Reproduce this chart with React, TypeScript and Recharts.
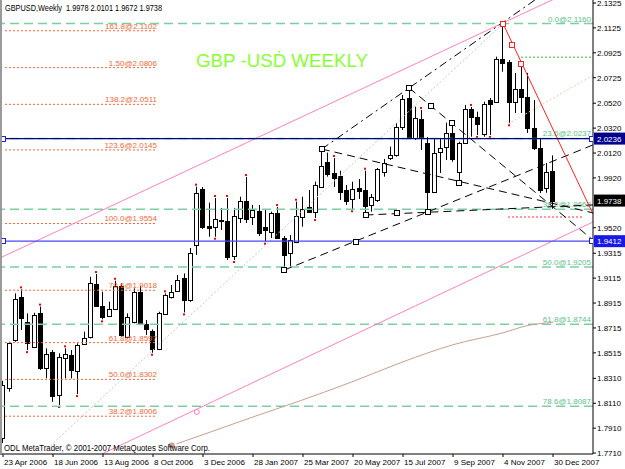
import React from 'react';
import { ComposedChart, Bar, Line, Scatter, XAxis, YAxis, ReferenceLine } from 'recharts';

// weekly bars, index 0 = week of 23 Apr 2006
const dateTicks = [0, 8, 16, 24, 32, 40, 48, 56, 64, 72, 80, 88];
const dateLabels = [
  '23 Apr 2006', '18 Jun 2006', '13 Aug 2006', '8 Oct 2006', '3 Dec 2006', '28 Jan 2007',
  '25 Mar 2007', '20 May 2007', '15 Jul 2007', '9 Sep 2007', '4 Nov 2007', '30 Dec 2007',
];
const priceTicks = [
  2.1325, 2.1125, 2.0925, 2.0725, 2.052, 2.032, 2.012, 1.992, 1.952, 1.9315,
  1.9115, 1.8915, 1.8715, 1.8515, 1.831, 1.811, 1.791, 1.771,
];

const opens = [
  1.7830, 1.8230, 1.8618, 1.8966, 1.8765, 1.8564, 1.8832, 1.8390, 1.8524, 1.8176,
  1.8471, 1.8497, 1.8371, 1.8586, 1.8645, 1.9068, 1.8894, 1.8810, 1.8864, 1.9051,
  1.8645, 1.8765, 1.9006, 1.8746, 1.8690, 1.8545, 1.8824, 1.8961, 1.9014, 1.9113,
  1.8939, 1.9381, 1.9831, 1.9534, 1.9526, 1.9580, 1.9574, 1.9293, 1.9598, 1.9737,
  1.9606, 1.9657, 1.9528, 1.9488, 1.9638, 1.9437, 1.9317, 1.9408, 1.9609, 1.9686,
  1.9649, 1.9850, 2.0050, 1.9962, 1.9935, 1.9823, 1.9751, 1.9839, 1.9823, 1.9703,
  1.9743, 1.9970, 2.0080, 2.0104, 2.0329, 2.0562, 2.0241, 2.0393, 2.0203, 1.9809,
  2.0131, 2.0168, 2.0281, 1.9970, 2.0203, 2.0474, 2.0412, 2.0273, 2.0546, 2.0532,
  2.0875, 2.0854, 2.0532, 2.0634, 2.0570, 2.0321, 2.0160, 1.9839, 1.9978,
];
const highs = [
  1.8290, 1.8604, 1.8993, 1.9025, 1.8832, 1.8837, 1.8886, 1.8551, 1.8537, 1.8511,
  1.8551, 1.8537, 1.8591, 1.8685, 1.9126, 1.9148, 1.9006, 1.8926, 1.9094, 1.9073,
  1.8832, 1.9033, 1.9051, 1.8778, 1.8703, 1.8845, 1.8993, 1.9060, 1.9140, 1.9153,
  1.9357, 1.9850, 1.9847, 1.9721, 1.9759, 1.9678, 1.9759, 1.9678, 1.9769, 1.9927,
  1.9703, 1.9703, 1.9662, 1.9649, 1.9686, 1.9453, 1.9461, 1.9729, 1.9769, 1.9823,
  1.9890, 2.0152, 2.0123, 2.0080, 1.9978, 1.9863, 1.9890, 1.9911, 1.9978, 1.9791,
  2.0000, 2.0072, 2.0171, 2.0361, 2.0586, 2.0642, 2.0492, 2.0466, 2.0249, 2.0241,
  2.0241, 2.0364, 2.0372, 2.0211, 2.0506, 2.0490, 2.0452, 2.0532, 2.0562, 2.0894,
  2.1160, 2.0867, 2.0763, 2.0827, 2.0763, 2.0546, 2.0241, 2.0040, 2.0101,
];
const lows = [
  1.7790, 1.8203, 1.8604, 1.8698, 1.8537, 1.8559, 1.8377, 1.8310, 1.8122, 1.8096,
  1.8310, 1.8310, 1.8184, 1.8578, 1.8631, 1.8886, 1.8784, 1.8805, 1.8859, 1.8645,
  1.8631, 1.8752, 1.8738, 1.8658, 1.8516, 1.8537, 1.8819, 1.8952, 1.9006, 1.8840,
  1.8925, 1.9301, 1.9510, 1.9448, 1.9448, 1.9502, 1.9261, 1.9261, 1.9558, 1.9558,
  1.9542, 1.9454, 1.9408, 1.9437, 1.9429, 1.9180, 1.9207, 1.9397, 1.9528, 1.9638,
  1.9598, 1.9847, 1.9930, 1.9847, 1.9743, 1.9703, 1.9668, 1.9751, 1.9622, 1.9649,
  1.9727, 1.9930, 2.0064, 2.0091, 2.0305, 2.0233, 2.0225, 2.0144, 1.9649, 1.9799,
  1.9960, 2.0064, 2.0050, 1.9879, 2.0193, 2.0251, 2.0265, 2.0251, 2.0265, 2.0522,
  2.0773, 2.0359, 2.0441, 2.0441, 2.0281, 2.0144, 1.9799, 1.9801, 1.9672,
];
const closes = [
  1.8256, 1.8591, 1.8945, 1.8792, 1.8591, 1.8819, 1.8390, 1.8503, 1.8168, 1.8484,
  1.8503, 1.8377, 1.8578, 1.8631, 1.9073, 1.8894, 1.8805, 1.8864, 1.9051, 1.8658,
  1.8805, 1.9006, 1.8752, 1.8703, 1.8545, 1.8832, 1.8979, 1.9006, 1.9100, 1.8939,
  1.9317, 1.9799, 1.9526, 1.9514, 1.9590, 1.9584, 1.9285, 1.9614, 1.9737, 1.9590,
  1.9662, 1.9480, 1.9502, 1.9641, 1.9437, 1.9301, 1.9421, 1.9614, 1.9670, 1.9649,
  1.9863, 2.0016, 1.9952, 1.9919, 1.9809, 1.9737, 1.9831, 1.9815, 1.9695, 1.9767,
  1.9992, 2.0042, 2.0104, 2.0331, 2.0554, 2.0241, 2.0401, 2.0241, 1.9809, 2.0123,
  2.0160, 2.0281, 2.0072, 2.0201, 2.0474, 2.0412, 2.0353, 2.0514, 2.0514, 2.0875,
  2.0846, 2.0532, 2.0634, 2.0570, 2.0321, 2.0160, 1.9823, 1.9970, 1.9738,
];

// fractal dots (bar indexes)
const fractalUp = [3, 6, 10, 15, 18, 26, 31, 34, 36, 39, 44, 47, 53, 58, 67, 75];
const fractalDown = [4, 9, 12, 16, 24, 29, 34, 37, 42, 50, 56, 76, 78, 81];

// moving average
const maBars = [27, 32, 40, 48, 56, 64, 72, 80, 84, 88];
const maValues = [1.7770, 1.7858, 1.8000, 1.8138, 1.8285, 1.8443, 1.8580, 1.8676, 1.8735, 1.8760];

// fibo levels
const orangeLevels = [2.1102, 2.0806, 2.0511, 2.0145, 1.9554, 1.9018, 1.8597, 1.8302, 1.8006];
const orangeLabels = ['161.8@2.1102', '1.50@2.0806', '138.2@2.0511', '123.6@2.0145', '100.0@1.9554',
  '78.6@1.9018', '61.8@1.8597', '50.0@1.8302', '38.2@1.8006'];
const greenLevels = [2.1160, 2.0237, 1.9668, 1.9205, 1.8744, 1.8087];
const greenLabels = ['0.0@2.1160', '23.6@2.0237', '38.2@1.9668', '50.0@1.9205', '61.8@1.8744', '78.6@1.8087'];

// trend lines [bar, price]
const pinkUpper = [[-0.48, 1.9277], [88, 2.1353]];
const pinkLower = [[15.84, 1.7703], [94.4, 1.9566]];
const grayDotted = [[6.2, 1.7703], [80, 2.1160]];
const faintDotted = [[80.8, 2.0353], [94.5, 2.0747]];
const redTrend = [[80, 2.1160], [94.4, 1.9630]];
const forkLower = [[45, 1.9180], [94.4, 2.0185]];
const forkUpper = [[51, 2.0152], [86.7, 2.1405]];
const forkMid = [[51, 2.0152], [94.4, 1.9639]];
const forkDown = [[65, 2.0642], [94.4, 1.9421]];
const flatLine = [[58, 1.9622], [94.4, 1.9703]];

const squareMarks = [
  { i: 51, p: 2.0152 }, { i: 65, p: 2.0642 }, { i: 68.48, p: 2.0497 }, { i: 71.84, p: 2.0358 },
  { i: 73, p: 1.9879 }, { i: 58, p: 1.9622 }, { i: 63, p: 1.9638 }, { i: 68, p: 1.9649 },
  { i: 56.5, p: 1.9405 }, { i: 45, p: 1.9180 },
];
const redMarks = [{ i: 80, p: 2.1160 }, { i: 81.4, p: 2.0988 }, { i: 82.9, p: 2.0835 }];
const blueMarks = [{ i: 0, p: 2.0236 }, { i: 0, p: 1.9412 }, { i: 94.2, p: 2.0236 }, { i: 94.2, p: 1.9412 }];
const circleMarks = [{ i: 31, p: 1.8040 }];

const candles = opens.map((o, i) => ({
  i, open: o, high: highs[i], low: lows[i], close: closes[i],
  range: [lows[i], highs[i]],
  up: fractalUp.includes(i), down: fractalDown.includes(i),
}));
const ma = maBars.map((i, k) => ({ i, p: maValues[k] }));

const seg = (l: number[][]) => [{ x: l[0][0], y: l[0][1] }, { x: l[1][0], y: l[1][1] }];

function Candle(props: any) {
  const { x, y, width, height, payload } = props;
  if (!payload) return null;
  const top = Math.min(y, y + height);
  const h = Math.abs(height);
  const span = payload.high - payload.low || 1;
  const toY = (v: number) => top + ((payload.high - v) / span) * h;
  const cx = Math.floor(x + width / 2) + 0.5;
  const yo = toY(payload.open);
  const yc = toY(payload.close);
  const bTop = Math.round(Math.min(yo, yc)) + 0.5;
  const bBot = Math.round(Math.max(yo, yc)) + 0.5;
  const bull = payload.close >= payload.open;
  return (
    <g>
      <line x1={cx} x2={cx} y1={top} y2={top + h} stroke="#000" />
      <rect x={cx - 2} y={bTop} width={4} height={Math.max(bBot - bTop, 1)} fill={bull ? '#fff' : '#000'} stroke="#000" />
      {payload.up && <rect x={cx - 1.5} y={top - 3} width={2} height={2} fill="#ff0000" />}
      {payload.down && <rect x={cx - 1.5} y={top + h + 1} width={2} height={2} fill="#ff0000" />}
    </g>
  );
}

function DateTick(props: any) {
  const { x, y, payload } = props;
  const k = dateTicks.indexOf(payload.value);
  return (
    <text x={x + 1} y={y + 8} fontSize={8} fill="#000">{dateLabels[k]}</text>
  );
}

function EndLabel(props: any) {
  const { viewBox, text, fill, pad } = props;
  if (!viewBox) return null;
  return (
    <text x={viewBox.x + viewBox.width - (pad || 0)} y={viewBox.y - 2} textAnchor="end" fontSize={8} fill={fill}>
      {text}
    </text>
  );
}

function PriceTag(props: any) {
  const { viewBox, text, bg } = props;
  if (!viewBox) return null;
  const x = viewBox.x + viewBox.width + 1;
  const y = viewBox.y;
  return (
    <g>
      <rect x={x} y={y - 6} width={31} height={12} fill={bg} />
      <text x={x + 3} y={y + 3} fontSize={8} fill="#fff">{text}</text>
    </g>
  );
}

function Square(props: any) {
  const { cx, cy, color } = props;
  return <rect x={Math.round(cx) - 2.5} y={Math.round(cy) - 2.5} width={5} height={5} fill="#fff" stroke={color} />;
}

function Ring(props: any) {
  const { cx, cy } = props;
  return <circle cx={cx} cy={cy} r={2.5} fill="none" stroke="#ff80c0" />;
}

export default function App() {
  return (
    <div style={{ position: 'absolute', left: 0, top: 0, width: 625, height: 469, background: '#fff', fontFamily: '"Liberation Sans", Arial, sans-serif' }}>
      <ComposedChart width={625} height={469} data={candles} margin={{ top: 0, right: 0, bottom: 0, left: 0 }}>
        <XAxis dataKey="i" type="number" domain={[-0.48, 94.4]} allowDataOverflow ticks={dateTicks} interval={0}
          tickSize={3} tickMargin={0} height={15} stroke="#000" tick={<DateTick />} />
        <YAxis orientation="right" type="number" domain={[1.77025, 2.13491]} allowDataOverflow ticks={priceTicks}
          interval={0} width={32} tickSize={3} tickMargin={1} stroke="#000"
          tick={{ fontSize: 8, fill: '#000' }} tickFormatter={(v: number) => v.toFixed(4)} />

        {greenLevels.map((p, k) => (
          <ReferenceLine key={'g' + k} y={p} stroke="#7ccfa0" strokeWidth={1.5} strokeDasharray="9 5"
            label={<EndLabel text={greenLabels[k]} fill="#5cbf88" pad={2} />} />
        ))}
        {orangeLevels.map((p, k) => (
          <ReferenceLine key={'o' + k} segment={[{ x: 0.32, y: p }, { x: 24.64, y: p }]} stroke="#ff6633"
            strokeDasharray="2 2" ifOverflow="visible"
            label={<EndLabel text={orangeLabels[k]} fill="#f0683a" />} />
        ))}
        <ReferenceLine segment={[{ x: 82.88, y: 2.089 }, { x: 94.4, y: 2.089 }]} stroke="#33bb33" strokeDasharray="2 2" ifOverflow="visible" />
        <ReferenceLine segment={[{ x: 80.8, y: 1.9606 }, { x: 92.64, y: 1.9606 }]} stroke="#ff3333" strokeDasharray="2 2" ifOverflow="visible" />

        <ReferenceLine segment={seg(pinkUpper)} stroke="#ff80c0" ifOverflow="hidden" />
        <ReferenceLine segment={seg(pinkLower)} stroke="#ff80c0" ifOverflow="hidden" />
        <ReferenceLine segment={seg(grayDotted)} stroke="#c8c8c8" strokeDasharray="2 2" ifOverflow="hidden" />
        <ReferenceLine segment={seg(faintDotted)} stroke="#e8c8c0" strokeDasharray="2 2" ifOverflow="hidden" />
        <ReferenceLine segment={seg(forkLower)} stroke="#000" strokeDasharray="8 5" ifOverflow="hidden" />
        <ReferenceLine segment={seg(forkUpper)} stroke="#000" strokeDasharray="8 4 2 4" ifOverflow="hidden" />
        <ReferenceLine segment={seg(forkMid)} stroke="#000" strokeDasharray="8 5" ifOverflow="hidden" />
        <ReferenceLine segment={seg(forkDown)} stroke="#000" strokeDasharray="8 5" ifOverflow="hidden" />
        <ReferenceLine segment={seg(flatLine)} stroke="#000" strokeDasharray="8 5" ifOverflow="hidden" />
        <ReferenceLine segment={seg(redTrend)} stroke="#ff2020" ifOverflow="hidden" />

        <ReferenceLine y={2.0236} stroke="#000080" strokeWidth={1.2} label={<PriceTag text="2.0236" bg="#00008c" />} />
        <ReferenceLine y={1.9412} stroke="#4848f0" strokeWidth={1.2} label={<PriceTag text="1.9412" bg="#1818e8" />} />
        <ReferenceLine y={1.9738} stroke="none" label={<PriceTag text="1.9738" bg="#000" />} />

        <Line data={ma} dataKey="p" type="monotone" stroke="#c8a090" dot={false} isAnimationActive={false} />
        <Bar dataKey="range" barSize={5} shape={<Candle />} isAnimationActive={false} />
        <Scatter data={squareMarks} dataKey="p" shape={<Square color="#000" />} isAnimationActive={false} />
        <Scatter data={redMarks} dataKey="p" shape={<Square color="#ff2020" />} isAnimationActive={false} />
        <Scatter data={blueMarks} dataKey="p" shape={<Square color="#2020e0" />} isAnimationActive={false} />
        <Scatter data={circleMarks} dataKey="p" shape={<Ring />} isAnimationActive={false} />
      </ComposedChart>
      <svg width={625} height={469} style={{ position: 'absolute', left: 0, top: 0, pointerEvents: 'none' }}>
        <rect x={0} y={0} width={2} height={454} fill="#9a9a9a" />
        <text x={5} y={11} fontSize={8.5} fill="#000" textLength={157} lengthAdjust="spacingAndGlyphs">
          {'GBPUSD,Weekly\u00a0 1.9978 2.0101 1.9672 1.9738'}
        </text>
        <text x={196} y={67} fontSize={19} fill="#88ff33" textLength={172} lengthAdjust="spacingAndGlyphs">
          {'GBP -USḊ WEEKLY'}
        </text>
        <text x={4} y={451} fontSize={8.5} fill="#000" textLength={206} lengthAdjust="spacingAndGlyphs">
          {'ODL MetaTrader, © 2001-2007 MetaQuotes Software Corp.'}
        </text>
      </svg>
    </div>
  );
}
